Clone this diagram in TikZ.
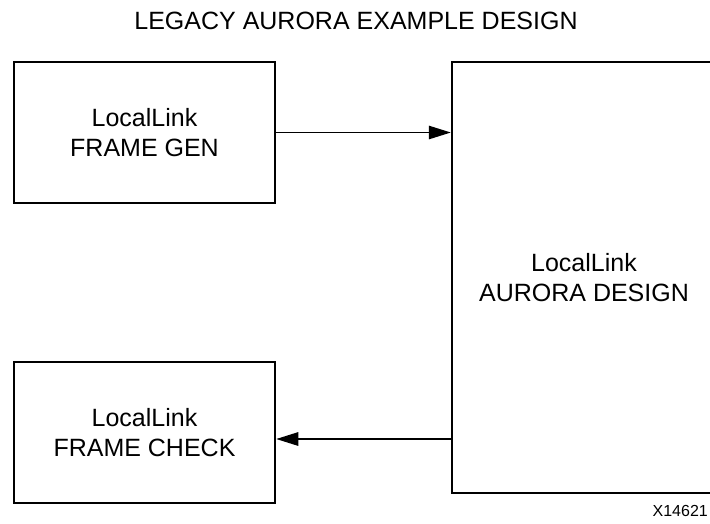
\documentclass[tikz,border=0pt]{standalone}
\usepackage{fontspec}
\setmainfont{Liberation Sans}
\usetikzlibrary{arrows.meta,positioning}

\begin{document}
\begin{tikzpicture}[x=1pt, y=-1pt,
  blk/.style={draw, line width=2.5pt, minimum width=261pt, minimum height=141pt, align=center,
    font=\fontsize{25}{30}\selectfont, inner sep=0pt},
  big/.style={blk, minimum width=264pt, minimum height=431pt},
  lab/.style={font=\fontsize{25}{30}\selectfont, inner sep=0pt},
  arr/.style={-{Triangle[length=22pt, width=13.5pt]}, line width=1.3pt}]
  \useasboundingbox (0,0) rectangle (710,523);
  % title
  \node[lab, anchor=base] (title) at (356,29) {LEGACY AURORA EXAMPLE DESIGN};
  % frame generator and checker
  \node[blk] (gen) at (144.5,132.5) {LocalLink\\FRAME GEN};
  \node[blk] (chk) at (144.5,432.5) {LocalLink\\FRAME CHECK};
  % aurora design (right edge runs off the page)
  \node[big] (aur) at (584,277.5) {LocalLink\\AURORA DESIGN};
  % links
  \draw[arr] (gen.east) -- (gen.east -| aur.west);
  \coordinate (ret) at ([yshift=-6.5pt]chk.east);
  \draw[arr] (ret -| aur.west) -- (ret);
  % figure number
  \node[font=\fontsize{16}{19}\selectfont, inner sep=0pt, anchor=base east] (fig) at (708,516) {X14621};
\end{tikzpicture}
\end{document}
